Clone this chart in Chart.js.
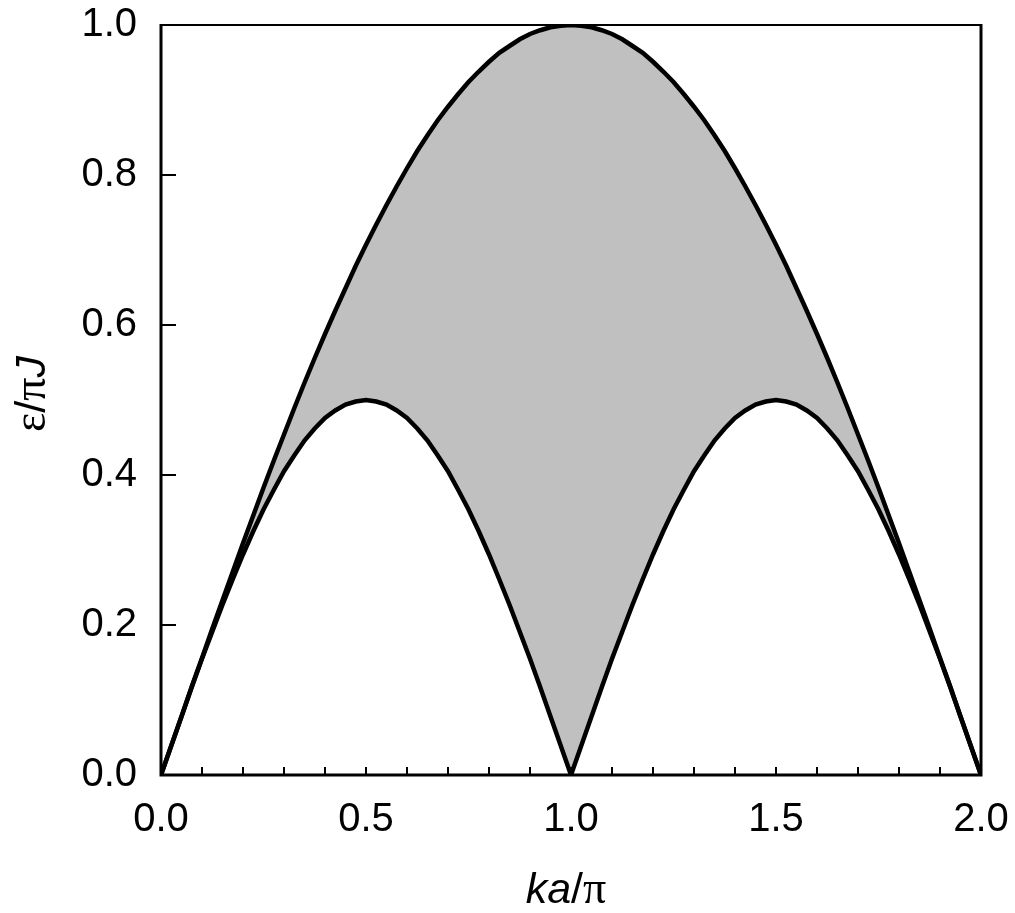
<!DOCTYPE html>
<html lang="en">
<head>
    <meta charset="UTF-8">
    <title>Spinon continuum</title>
    <script src="https://cdn.jsdelivr.net/npm/chart.js"></script>
    <style>
        body {
            margin: 0;
            background-color: #ffffff;
        }
        .chart-container {
            position: relative;
            width: 1015px;
            height: 913px;
        }
    </style>
</head>
<body>
    <div class="chart-container">
        <canvas id="continuumChart"></canvas>
    </div>

    <script>
        // ka/pi sample positions
        const kaValues = [
            0.000, 0.025, 0.050, 0.075, 0.100, 0.125, 0.150, 0.175, 0.200, 0.225,
            0.250, 0.275, 0.300, 0.325, 0.350, 0.375, 0.400, 0.425, 0.450, 0.475,
            0.500, 0.525, 0.550, 0.575, 0.600, 0.625, 0.650, 0.675, 0.700, 0.725,
            0.750, 0.775, 0.800, 0.825, 0.850, 0.875, 0.900, 0.925, 0.950, 0.975,
            1.000, 1.025, 1.050, 1.075, 1.100, 1.125, 1.150, 1.175, 1.200, 1.225,
            1.250, 1.275, 1.300, 1.325, 1.350, 1.375, 1.400, 1.425, 1.450, 1.475,
            1.500, 1.525, 1.550, 1.575, 1.600, 1.625, 1.650, 1.675, 1.700, 1.725,
            1.750, 1.775, 1.800, 1.825, 1.850, 1.875, 1.900, 1.925, 1.950, 1.975,
            2.000
        ];

        // lower edge of the continuum (eps / pi J)
        const lowerEdge = [
            0.000, 0.039, 0.078, 0.117, 0.155, 0.191, 0.227, 0.261, 0.294, 0.325,
            0.354, 0.380, 0.405, 0.426, 0.446, 0.462, 0.476, 0.486, 0.494, 0.498,
            0.500, 0.498, 0.494, 0.486, 0.476, 0.462, 0.446, 0.426, 0.405, 0.380,
            0.354, 0.325, 0.294, 0.261, 0.227, 0.191, 0.155, 0.117, 0.078, 0.039,
            0.000, 0.039, 0.078, 0.117, 0.155, 0.191, 0.227, 0.261, 0.294, 0.325,
            0.354, 0.380, 0.405, 0.426, 0.446, 0.462, 0.476, 0.486, 0.494, 0.498,
            0.500, 0.498, 0.494, 0.486, 0.476, 0.462, 0.446, 0.426, 0.405, 0.380,
            0.354, 0.325, 0.294, 0.261, 0.227, 0.191, 0.155, 0.117, 0.078, 0.039,
            0.000
        ];

        // upper edge of the continuum (eps / pi J)
        const upperEdge = [
            0.000, 0.039, 0.078, 0.118, 0.156, 0.195, 0.233, 0.271, 0.309, 0.346,
            0.383, 0.419, 0.454, 0.489, 0.523, 0.556, 0.588, 0.619, 0.649, 0.679,
            0.707, 0.734, 0.760, 0.785, 0.809, 0.832, 0.853, 0.873, 0.891, 0.908,
            0.924, 0.938, 0.951, 0.963, 0.972, 0.981, 0.988, 0.993, 0.997, 0.999,
            1.000, 0.999, 0.997, 0.993, 0.988, 0.981, 0.972, 0.963, 0.951, 0.938,
            0.924, 0.908, 0.891, 0.873, 0.853, 0.832, 0.809, 0.785, 0.760, 0.734,
            0.707, 0.679, 0.649, 0.619, 0.588, 0.556, 0.523, 0.489, 0.454, 0.419,
            0.383, 0.346, 0.309, 0.271, 0.233, 0.195, 0.156, 0.118, 0.078, 0.039,
            0.000
        ];

        // axis ticks
        const xLabelTicks = [0.0, 0.5, 1.0, 1.5, 2.0];
        const xMinorTicks = [0.1, 0.2, 0.3, 0.4, 0.5, 0.6, 0.7, 0.8, 0.9, 1.0,
                             1.1, 1.2, 1.3, 1.4, 1.5, 1.6, 1.7, 1.8, 1.9];
        const yLabelTicks = [0.0, 0.2, 0.4, 0.6, 0.8, 1.0];

        const sansFont = '"Liberation Sans", Arial, sans-serif';
        const serifFont = '"Liberation Serif", "Times New Roman", serif';
        const labelSize = 40;
        const titleSize = 43;

        function toPoints(values) {
            return kaValues.map((x, i) => ({ x: x, y: values[i] }));
        }

        // draws a run of differently styled pieces of text, centred on (0, 0)
        function drawRichText(ctx, parts) {
            let total = 0;
            parts.forEach(p => {
                ctx.font = p.font;
                p.width = ctx.measureText(p.text).width;
                total += p.width;
            });
            let x = -total / 2;
            ctx.textAlign = 'left';
            ctx.textBaseline = 'alphabetic';
            parts.forEach(p => {
                ctx.font = p.font;
                ctx.fillText(p.text, x, 0);
                x += p.width;
            });
        }

        // frame, inward ticks and axis titles
        const framePlugin = {
            id: 'frame',
            afterDraw(chart) {
                const ctx = chart.ctx;
                const area = chart.chartArea;
                const xs = chart.scales.x;
                const ys = chart.scales.y;
                ctx.save();
                ctx.strokeStyle = '#000';
                ctx.lineCap = 'butt';

                // x minor ticks
                ctx.lineWidth = 2;
                xMinorTicks.forEach(v => {
                    const px = Math.round(xs.getPixelForValue(v));
                    ctx.beginPath();
                    ctx.moveTo(px, area.bottom);
                    ctx.lineTo(px, area.bottom - 8);
                    ctx.stroke();
                });
                // y ticks
                yLabelTicks.forEach(v => {
                    const py = Math.round(ys.getPixelForValue(v));
                    ctx.beginPath();
                    ctx.moveTo(area.left, py);
                    ctx.lineTo(area.left + 15, py);
                    ctx.stroke();
                });

                // box
                ctx.lineWidth = 2;
                ctx.beginPath();
                ctx.moveTo(area.left, area.top);
                ctx.lineTo(area.right, area.top);
                ctx.stroke();
                ctx.lineWidth = 3;
                ctx.beginPath();
                ctx.moveTo(area.left, area.top - 1);
                ctx.lineTo(area.left, area.bottom);
                ctx.lineTo(area.right, area.bottom);
                ctx.lineTo(area.right, area.top - 1);
                ctx.stroke();

                // titles
                ctx.fillStyle = '#000';
                ctx.save();
                ctx.translate(566, 903);
                drawRichText(ctx, [
                    { text: 'ka', font: `italic ${titleSize}px ${sansFont}` },
                    { text: '/', font: `${titleSize}px ${sansFont}` },
                    { text: 'π', font: `${titleSize + 3}px ${serifFont}` }
                ]);
                ctx.restore();

                ctx.save();
                ctx.translate(45, 394);
                ctx.rotate(-Math.PI / 2);
                drawRichText(ctx, [
                    { text: 'ε', font: `${titleSize + 3}px ${serifFont}` },
                    { text: '/', font: `${titleSize}px ${sansFont}` },
                    { text: 'π', font: `${titleSize + 3}px ${serifFont}` },
                    { text: 'J', font: `italic ${titleSize}px ${sansFont}` }
                ]);
                ctx.restore();

                ctx.restore();
            }
        };

        new Chart(document.getElementById('continuumChart'), {
            type: 'line',
            data: {
                datasets: [{
                    label: 'lower',
                    data: toPoints(lowerEdge),
                    borderColor: '#000',
                    borderWidth: 4.5,
                    pointRadius: 0,
                    tension: 0,
                    fill: false
                }, {
                    label: 'upper',
                    data: toPoints(upperEdge),
                    borderColor: '#000',
                    borderWidth: 4.5,
                    pointRadius: 0,
                    tension: 0,
                    backgroundColor: '#c0c0c0',
                    fill: '-1'
                }]
            },
            options: {
                responsive: true,
                maintainAspectRatio: false,
                animation: false,
                layout: {
                    padding: { top: 25, right: 34, left: 0, bottom: 0 }
                },
                plugins: {
                    legend: { display: false },
                    tooltip: { enabled: false }
                },
                scales: {
                    x: {
                        type: 'linear',
                        min: 0,
                        max: 2,
                        afterFit: scale => {
                            scale.height = 138;
                            scale.paddingLeft = 0;
                            scale.paddingRight = 0;
                        },
                        afterBuildTicks: scale => {
                            scale.ticks = xLabelTicks.map(v => ({ value: v }));
                        },
                        grid: { display: false, drawTicks: false },
                        border: { display: false },
                        ticks: {
                            padding: 21,
                            color: '#000',
                            maxRotation: 0,
                            font: { family: sansFont, size: labelSize },
                            callback: v => v.toFixed(1)
                        }
                    },
                    y: {
                        type: 'linear',
                        min: 0,
                        max: 1,
                        afterFit: scale => {
                            scale.width = 161;
                            scale.paddingTop = 0;
                            scale.paddingBottom = 0;
                        },
                        afterBuildTicks: scale => {
                            scale.ticks = yLabelTicks.map(v => ({ value: v }));
                        },
                        grid: { display: false, drawTicks: false },
                        border: { display: false },
                        ticks: {
                            padding: 24,
                            color: '#000',
                            font: { family: sansFont, size: labelSize },
                            callback: v => v.toFixed(1)
                        }
                    }
                }
            },
            plugins: [framePlugin]
        });
    </script>
</body>
</html>
